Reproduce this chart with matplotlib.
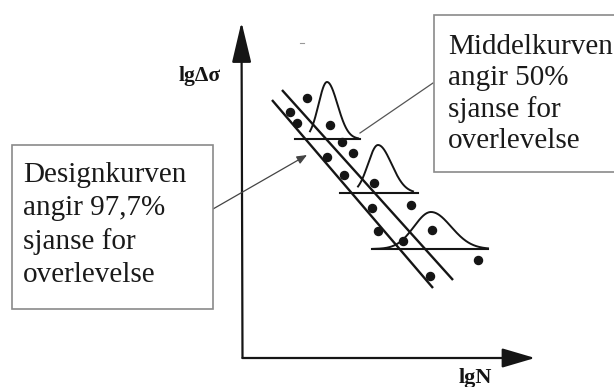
import numpy as np
import matplotlib
matplotlib.use("Agg")
import matplotlib.pyplot as plt
from matplotlib.patches import Rectangle

# --- schematic S-N data (arbitrary lgN / lgΔσ units) ---
design_lgN = [2.9, 19.0]          # design curve (97.7 % survival)
design_lgS = [25.8, 7.0]
mean_lgN = [3.9, 21.0]            # mean curve (50 % survival)
mean_lgS = [26.8, 7.8]

# stress levels with their life distributions
level_lgS = [21.9, 16.5, 10.9]
level_from = [5.2, 9.7, 12.9]
level_to = [11.7, 17.5, 24.5]
dist_center = [8.4, 13.5, 18.8]
dist_height = [5.7, 4.8, 3.7]
dist_sig_left = [0.85, 1.0, 1.7]
dist_sig_right = [1.05, 1.35, 2.0]
dist_from = [6.7, 11.5, 13.0]
dist_to = [11.5, 17.0, 24.5]

# test results
test_lgN = [6.4, 4.7, 5.4, 8.7, 9.9, 8.4, 11.0, 10.1, 13.1, 12.9,
            16.8, 13.5, 18.9, 16.0, 23.5, 18.7]
test_lgS = [26.0, 24.6, 23.5, 23.3, 21.6, 20.1, 20.5, 18.3, 17.5, 15.0,
            15.3, 12.7, 12.8, 11.7, 9.8, 8.2]

W, H = 614, 387
fig = plt.figure(figsize=(W / 100, H / 100), dpi=100)
ax = fig.add_axes([0, 0, 1, 1])
ax.set_xlim(-24.3, 37.1)
ax.set_ylim(-2.9, 35.8)
ax.axis("off")

ink = "#151515"

# coordinate axes with arrowheads
ax.annotate("", xy=(-0.15, 33.6), xytext=(-0.05, 0.0),
            arrowprops=dict(arrowstyle="-|>,head_length=2.1,head_width=0.5",
                            lw=1.6, color=ink, shrinkA=0, shrinkB=0,
                            mutation_scale=12))
ax.annotate("", xy=(29.2, 0.0), xytext=(-0.05, 0.0),
            arrowprops=dict(arrowstyle="-|>,head_length=1.7,head_width=0.5",
                            lw=1.6, color=ink, shrinkA=0, shrinkB=0,
                            mutation_scale=12))
ax.text(-4.3, 28.2, "lgΔσ", family="Liberation Serif", fontweight="bold",
        fontsize=15.5, ha="center", va="center", color=ink)
ax.text(23.2, -2.0, "lgN", family="Liberation Serif", fontweight="bold",
        fontsize=16, ha="center", va="center", color=ink)

# S-N lines
ax.plot(design_lgN, design_lgS, color=ink, lw=1.7, solid_capstyle="butt")
ax.plot(mean_lgN, mean_lgS, color=ink, lw=1.7, solid_capstyle="butt")

# stress levels and the scatter distribution drawn on each
for i in range(len(level_lgS)):
    ax.plot([level_from[i], level_to[i]], [level_lgS[i], level_lgS[i]],
            color=ink, lw=1.5)
    x = np.linspace(dist_from[i], dist_to[i], 200)
    sig = np.where(x < dist_center[i], dist_sig_left[i], dist_sig_right[i])
    y = level_lgS[i] + dist_height[i] * np.exp(-0.5 * ((x - dist_center[i]) / sig) ** 2)
    ax.plot(x, y, color=ink, lw=1.4)

ax.plot(test_lgN, test_lgS, "o", ms=5.8, color=ink, mec=ink)

# small stray mark
ax.plot([5.7, 6.1], [31.5, 31.5], color="#999999", lw=0.8)


def fx(px):
    return px / W


def fy(py):
    return 1 - py / H


box_edge = "#8a8a8a"
fig.patches.append(Rectangle((fx(12), fy(309)), fx(213) - fx(12), fy(145) - fy(309),
                             transform=fig.transFigure, facecolor="white",
                             edgecolor=box_edge, lw=1.2))
fig.patches.append(Rectangle((fx(434), fy(172)), fx(640) - fx(434), fy(15) - fy(172),
                             transform=fig.transFigure, facecolor="white",
                             edgecolor=box_edge, lw=1.2))

left_lines = ["Designkurven", "angir 97,7%", "sjanse for", "overlevelse"]
right_lines = ["Middelkurven", "angir 50%", "sjanse for", "overlevelse"]
for k, s in enumerate(left_lines):
    fig.text(fx(23), fy(182 + 33.5 * k), s, family="Liberation Serif",
             fontsize=21, color="#1a1a1a", va="baseline", ha="left")
for k, s in enumerate(right_lines):
    fig.text(fx(448), fy(53.5 + 31.6 * k), s, family="Liberation Serif",
             fontsize=21, color="#1a1a1a", va="baseline", ha="left")

# connectors from the boxes to the curves
ax.annotate("", xy=(6.4, 20.3), xytext=((213 - 243) / 10, (358 - 209) / 10),
            arrowprops=dict(arrowstyle="-|>,head_length=0.6,head_width=0.25",
                            lw=0.9, color="#444444", shrinkA=0, shrinkB=0,
                            mutation_scale=10))
ax.plot([11.7, 19.0], [22.5, 27.5], color="#555555", lw=0.9)

fig.savefig("out.png", dpi=100)
